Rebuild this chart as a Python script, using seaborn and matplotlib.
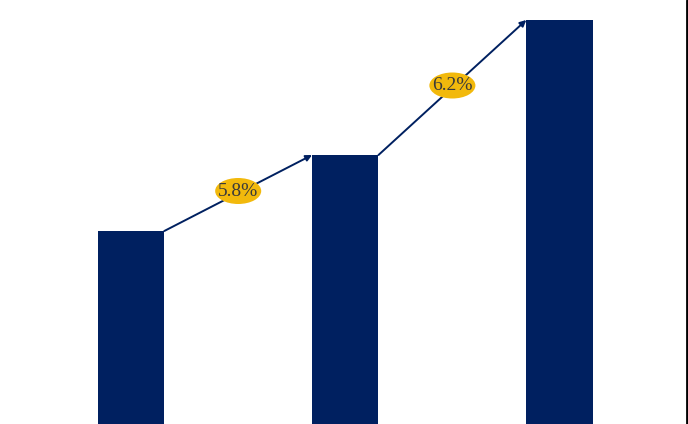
import matplotlib
matplotlib.use('Agg')
from matplotlib import pyplot as plt
from matplotlib.patches import Ellipse
from matplotlib.lines import Line2D
import pandas as pd
import seaborn as sns

# data (bar heights in the chart's own units)
periods = ['P1', 'P2', 'P3']
values = [193, 269, 404]
growth_labels = ['5.8%', '6.2%']

df = pd.DataFrame({'period': periods, 'value': values})

navy = '#002060'
gold = '#F2B90C'

sns.set_style('white')
fig = plt.figure(figsize=(6.88, 4.24), dpi=100)
ax = fig.add_axes([0, 0, 1, 1])
sns.barplot(data=df, x='period', y='value', color=navy, width=0.31,
            saturation=1, linewidth=0, ax=ax)
ax.set_xlim(-0.612, 2.600)
ax.set_ylim(0, 424)
ax.axis('off')

half = 0.31 / 2
for i, lab in enumerate(growth_labels):
    x0, y0 = i + half, values[i]
    x1, y1 = i + 1 - half, values[i + 1]
    ax.annotate('', xy=(x1, y1), xytext=(x0, y0),
                arrowprops=dict(arrowstyle='-|>', color=navy, lw=1.4,
                                mutation_scale=9, shrinkA=0, shrinkB=0))
    cx, cy = (x0 + x1) / 2, (y0 + y1) / 2 + 2
    ax.add_patch(Ellipse((cx, cy), 0.215, 26, facecolor=gold,
                         edgecolor='none', zorder=5))
    ax.text(cx, cy, lab, ha='center', va='center', fontsize=14,
            family='Liberation Serif', color='#3a3a3a', zorder=6)

# thin frame line at the right edge
fig.add_artist(Line2D([686.5 / 688, 686.5 / 688], [0, 1],
                      transform=fig.transFigure, color='black', lw=2))

fig.savefig('out.png', dpi=100)
